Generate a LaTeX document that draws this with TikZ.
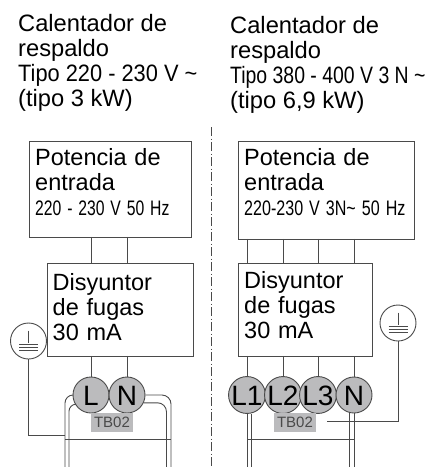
\documentclass[tikz,border=0pt]{standalone}
\usepackage{fontspec}
\setmainfont{Liberation Sans}
\definecolor{wiregray}{HTML}{4A4A4A}
\definecolor{termgray}{HTML}{BBBBBD}
\newcommand{\narrowtext}[2]{\scalebox{#1}[1]{#2}}
\tikzset{
    titletext/.style={anchor=north west, align=left, inner sep=0pt, font=\fontsize{23.7}{25}\selectfont},
    boxnode/.style={draw=wiregray, rectangle, anchor=north west, align=left, inner xsep=6pt, inner ysep=8pt, font=\fontsize{23.5}{25}\selectfont},
    wire/.style={draw=wiregray, line width=0.9pt},
    terminal/.style={draw=wiregray, circle, fill=termgray, line width=0.9pt, minimum size=36pt, inner sep=0pt, text height=20pt, text depth=0pt, font=\fontsize{28}{28}\selectfont},
    tagnode/.style={fill=termgray, text=wiregray, minimum width=42pt, minimum height=19pt, inner sep=0pt, font=\fontsize{15}{15}\selectfont},
    earth/.style={draw=wiregray, circle, fill=white, line width=0.9pt, minimum size=36pt, inner sep=0pt},
    earthmark/.pic={
        \draw[wire, line width=0.7pt] (0,-10.5) -- (0,2);
        \draw[wire, line width=0.7pt] (-9.5,3) -- (9.5,3);
        \draw[wire, line width=0.7pt] (-9.5,6) -- (9.5,6);
        \draw[wire, line width=0.7pt] (-9.5,9) -- (9.5,9);
    }
}
\begin{document}
\begin{tikzpicture}[x=1pt, y=-1pt]
    \useasboundingbox (0,0) rectangle (428,467);

    % titles
    \node[titletext] (titleleft) at (18,14) {Calentador de\\respaldo\\\narrowtext{0.92}{Tipo 220 - 230 V \textasciitilde}\\(tipo 3 kW)};
    \node[titletext] (titleright) at (230,16) {Calentador de\\respaldo\\\narrowtext{0.82}{Tipo 380 - 400 V 3 N \textasciitilde}\\(tipo 6,9 kW)};

    % separator
    \coordinate (septop) at (211.5,127);
    \coordinate (sepbot) at (211.5,467);
    \draw[wire, dash pattern=on 9pt off 2.5pt on 1pt off 2.5pt] (septop) -- (sepbot);

    % left side
    \node[boxnode, text width=150pt, minimum height=96pt, text depth=63pt] (inputleft) at (29,140.5) {Potencia de\\entrada\\\narrowtext{0.749}{\fontsize{21}{25}\selectfont 220 - 230 V 50 Hz}};
    \node[boxnode, text width=134pt, minimum height=92.5pt, text depth=55.5pt] (breakerleft) at (46.5,263) {Disyuntor\\de fugas\\30 mA};
    \node[terminal] (lterm) at (91,395) {L};
    \node[terminal] (nterm) at (127,395) {N};
    \node[tagnode] (tagleft) at (112,422.5) {TB02};
    \node[earth] (earthleft) at (28.5,341) {};
    \pic at (earthleft.center) {earthmark};

    \draw[wire] (inputleft.south -| lterm) -- (breakerleft.north -| lterm);
    \draw[wire] (inputleft.south -| nterm) -- (breakerleft.north -| nterm);
    \draw[wire] (breakerleft.south -| lterm) -- (lterm);
    \draw[wire] (breakerleft.south -| nterm) -- (nterm);

    \coordinate (louter) at (65,467);
    \coordinate (linner) at (69,467);
    \coordinate (nouter) at (171,467);
    \coordinate (ninner) at (166.5,467);
    \coordinate (busleft) at (65,439);
    \coordinate (busright) at (171,439);
    \coordinate (earthjoin) at (65,435);
    \draw[wire, rounded corners=8pt] (lterm.west) -| (louter);
    \draw[wire, rounded corners=7pt] (lterm.210) -| (linner);
    \draw[wire, rounded corners=9pt] (nterm.east) -| (nouter);
    \draw[wire, rounded corners=9pt] (nterm.-25) -| (ninner);
    \draw[wire] (busleft) -- (busright);
    \draw[wire] (earthleft.south) |- (earthjoin);

    % right side
    \node[boxnode, text width=164pt, minimum height=96pt, text depth=65pt] (inputright) at (238,140.5) {Potencia de\\entrada\\\narrowtext{0.766}{\fontsize{21}{25}\selectfont 220-230 V 3N\textasciitilde{} 50 Hz}};
    \node[boxnode, text width=122pt, minimum height=92.5pt, text depth=59.5pt] (breakerright) at (238,263) {Disyuntor\\de fugas\\30 mA};
    \node[terminal] (loneterm) at (247,395) {L1};
    \node[terminal] (ltwoterm) at (283,395) {L2};
    \node[terminal] (lthreeterm) at (318,395) {L3};
    \node[terminal] (nrterm) at (354,395) {N};
    \node[tagnode] (tagright) at (295,422.5) {TB02};
    \node[earth] (earthright) at (398,323) {};
    \pic at (earthright.center) {earthmark};

    \foreach \term in {loneterm, ltwoterm, lthreeterm, nrterm} {
        \draw[wire] (inputright.south -| \term) -- (breakerright.north -| \term);
        \draw[wire] (breakerright.south -| \term) -- (\term);
    }

    \coordinate (oneouter) at (247,467);
    \coordinate (oneinner) at (251.5,467);
    \coordinate (nrinner) at (349.5,467);
    \coordinate (nrouter) at (354,467);
    \coordinate (earthend) at (327,421);
    \draw[wire] (loneterm.south) -- (oneouter);
    \draw[wire] (loneterm.south -| oneinner) -- (oneinner);
    \draw[wire] (nrterm.south -| nrinner) -- (nrinner);
    \draw[wire] (nrterm.south) -- (nrouter);
    \draw[wire] (oneouter |- busleft) -- (nrouter |- busleft);
    \draw[wire] (earthright.south) |- (earthend);
\end{tikzpicture}
\end{document}
